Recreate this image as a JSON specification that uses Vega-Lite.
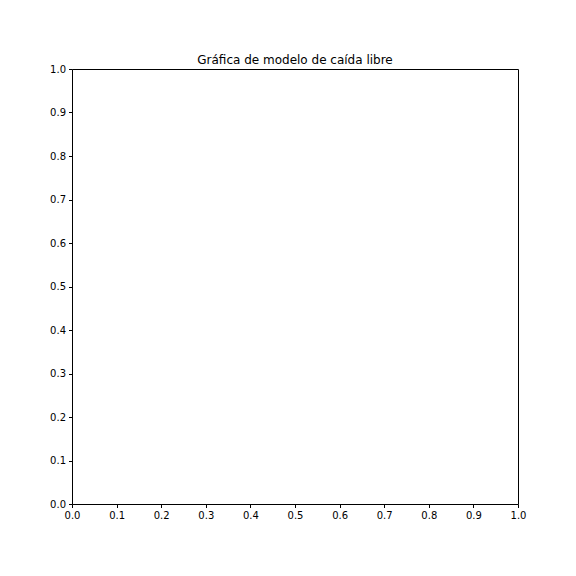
{
"$schema":"https://vega.github.io/schema/vega-lite/v6.json",
"width":446,"height":435,
"autosize":{"type":"none"},
"padding":{"left":72,"top":69,"right":58,"bottom":72},
"background":"white",
"title":{"text":"Gráfica de modelo de caída libre","font":"DejaVu Sans","fontSize":12,"fontWeight":"normal","color":"black","offset":-3},
"config":{"view":{"stroke":"black","strokeWidth":1},
"axis":{"grid":false,"domain":false,"labelFlush":false,"tickColor":"black","tickSize":3.5,"labelFont":"DejaVu Sans","labelFontSize":10,"labelColor":"black","labelPadding":3,"title":null,"format":".1f","values":[0,0.2,0.4,0.6,0.8,1.0]}},
"data":{"values":[{"x":0,"y":0}]},
"mark":{"type":"point","opacity":0},
"encoding":{
"x":{"field":"x","type":"quantitative","scale":{"domain":[0,1],"nice":false,"zero":false}},
"y":{"field":"y","type":"quantitative","scale":{"domain":[0,1],"nice":false,"zero":false}}
}
}
